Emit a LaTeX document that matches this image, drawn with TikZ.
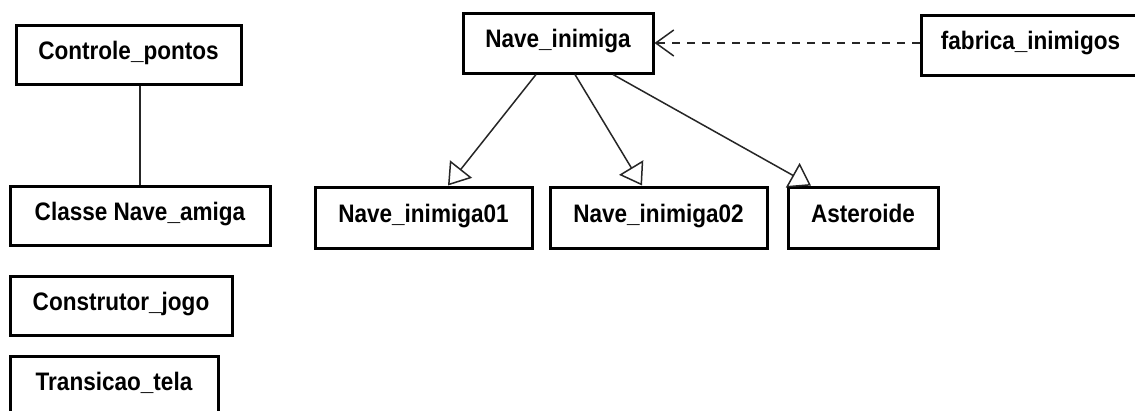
\documentclass[tikz,border=0pt]{standalone}
\usepackage{fontspec}
\usepackage{graphicx}
\setmainfont{Liberation Sans}
\usetikzlibrary{arrows.meta,calc}
\newcommand{\lbl}[1]{\scalebox{0.98}[1.1]{#1}}
\begin{document}
\begin{tikzpicture}[x=1pt,y=-1pt,
  cls/.style={draw=black,line width=3pt,inner sep=0pt,minimum height=59pt,
    font=\fontsize{23}{23}\selectfont\bfseries,text height=18pt,text depth=9pt},
  conn/.style={line width=1.5pt,draw=black!85},
  gen/.style={conn,-{Triangle[open,length=21pt,width=28pt,line width=1.5pt]}},
  dep/.style={conn,dash pattern=on 8pt off 7pt,-{Straight Barb[length=18pt,width=26pt,line width=1.5pt]}}]
\useasboundingbox (0,0) rectangle (1135,410);
\fill[white] (0,0) rectangle (1135,410);
% left column
\node[cls,minimum width=225pt] (cp) at (128.5,54.5) {\lbl{Controle\_pontos}};
\node[cls,minimum width=260pt] (cna) at (140,215.5) {\lbl{Classe Nave\_amiga}};
\node[cls,minimum width=222pt] (cj) at (121,305.5) {\lbl{Construtor\_jogo}};
\node[cls,minimum width=208pt] (tt) at (114,385.5) {\lbl{Transicao\_tela}};
% enemies
\node[cls,minimum width=190pt,minimum height=60pt] (ni) at (558,43) {\lbl{Nave\_inimiga}};
\node[cls,minimum width=217pt,minimum height=61pt] (n1) at (423.5,217.5) {\lbl{Nave\_inimiga01}};
\node[cls,minimum width=217pt,minimum height=61pt] (n2) at (658.5,217.5) {\lbl{Nave\_inimiga02}};
\node[cls,minimum width=150pt,minimum height=61pt] (ast) at (863,217.5) {\lbl{Asteroide}};
\node[cls,minimum width=219pt,minimum height=60pt] (fab) at (1030.5,45) {\lbl{fabrica\_inimigos}};
% connectors
\draw[conn] (cna.north |- cp.south) -- (cna.north);
\draw[gen] ($(ni.south)+(-22,0)$) -- ($(n1.north)+(24.5,0)$);
\draw[gen] ($(ni.south)+(17,0)$) -- ($(n2.north)+(-16.5,0)$);
\draw[gen] ($(ni.south)+(55,0)$) -- ($(ast.north)+(-52,0)$);
\draw[dep] (ni.east -| fab.west) -- (ni.east);
\end{tikzpicture}
\end{document}
